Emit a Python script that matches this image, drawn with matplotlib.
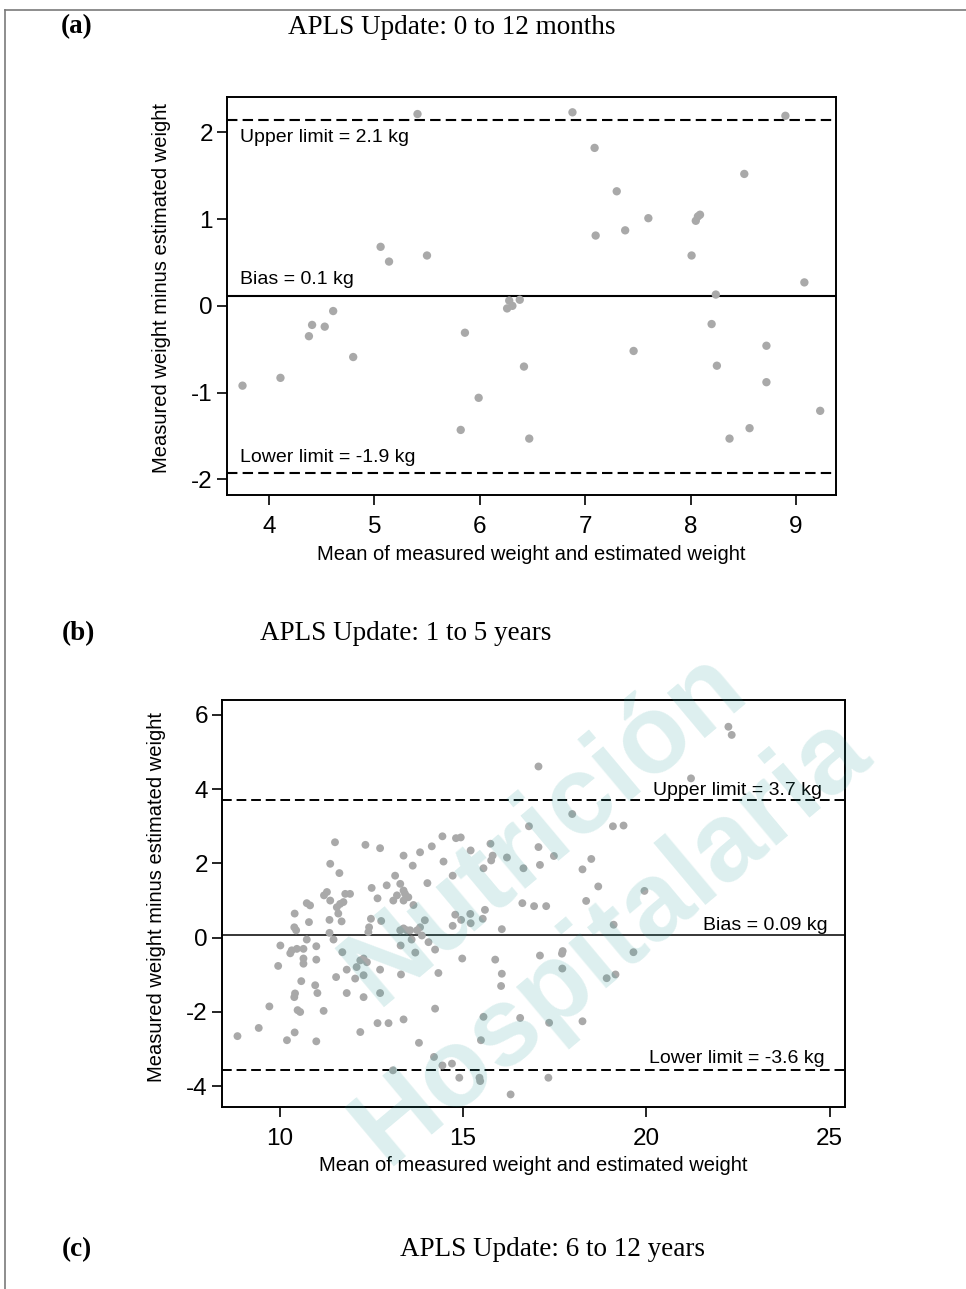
import matplotlib
matplotlib.use("Agg")
import matplotlib.pyplot as plt
from matplotlib.lines import Line2D

# ---- panel (a): 0 to 12 months ----
mean_a = [3.75, 4.11, 4.38, 4.41, 4.53, 4.61, 4.80, 5.06, 5.14, 5.41, 5.50,
          5.86, 5.82, 5.99, 6.26, 6.28, 6.31, 6.38, 6.42, 6.47, 6.88, 7.09,
          7.10, 7.30, 7.38, 7.46, 7.60, 8.01, 8.05, 8.07, 8.09, 8.24, 8.20,
          8.25, 8.37, 8.51, 8.56, 8.72, 8.72, 8.90, 9.08, 9.23]
diff_a = [-0.92, -0.83, -0.35, -0.22, -0.24, -0.06, -0.59, 0.68, 0.51, 2.21, 0.58,
          -0.31, -1.43, -1.06, -0.03, 0.06, 0.00, 0.07, -0.70, -1.53, 2.23, 1.82,
          0.81, 1.32, 0.87, -0.52, 1.01, 0.58, 0.98, 1.03, 1.05, 0.13, -0.21,
          -0.69, -1.53, 1.52, -1.41, -0.46, -0.88, 2.19, 0.27, -1.21]
limits_a = {"upper": 2.14, "bias": 0.11, "lower": -1.93}
labels_a = ["Upper limit = 2.1 kg", "Bias = 0.1 kg", "Lower limit = -1.9 kg"]
xticks_a = [4, 5, 6, 7, 8, 9]
yticks_a = [-2, -1, 0, 1, 2]

# ---- panel (b): 1 to 5 years ----
mean_b = [
    8.85, 9.43, 9.72, 9.96, 10.02, 10.20, 10.41, 10.41, 10.40, 10.45, 10.59, 10.42, 10.40,
    10.49, 10.56, 10.29, 10.33, 10.47, 10.65, 10.74, 10.83, 10.80, 10.74, 10.65, 10.65, 10.97,
    11.00, 11.00, 11.03, 11.00, 11.20, 11.21, 11.29, 11.38, 11.51, 11.63, 11.38, 11.36, 11.36,
    11.47, 11.56, 11.60, 11.65, 11.74, 11.69, 11.79, 11.92, 11.71, 11.54, 11.83, 11.83,
    12.06, 12.10, 12.20, 12.29, 12.38, 12.29, 12.29, 12.20, 12.34, 12.74, 12.51, 12.67, 12.49,
    12.44, 12.42, 12.77, 12.74, 12.74, 12.67, 12.97, 12.92,
    13.15, 13.10, 13.20, 13.29, 13.38, 13.42, 13.51, 13.38, 13.38, 13.63, 13.65, 13.29, 13.38,
    13.47, 13.56, 13.60, 13.75, 13.30, 13.31, 13.38, 13.80, 13.70, 13.83, 13.96, 13.83, 13.88, 13.09,
    14.03, 14.15, 14.06, 14.24, 14.33, 14.24, 14.21, 14.44, 14.81, 14.94, 14.47, 14.72, 14.79,
    14.95, 14.72, 14.98, 14.44, 14.70, 14.90,
    15.21, 15.75, 15.81, 15.77, 15.56, 15.60, 15.54, 15.20, 15.21, 15.88, 15.56, 15.49, 15.45, 15.47,
    16.20, 16.65, 16.80, 17.06, 17.06, 17.48, 17.10, 16.62, 16.94, 17.27, 16.06, 17.10, 17.72,
    17.70, 16.06, 16.04, 17.71, 16.56, 17.35, 17.33, 16.30,
    17.98, 18.26, 18.50, 18.69, 18.36, 18.92, 18.26, 19.09, 19.38, 19.95, 19.11, 19.65, 19.16,
    21.22, 22.24, 22.33,
]
diff_b = [
    -2.65, -2.43, -1.85, -0.76, -0.21, -2.76, -2.55, 0.65, 0.28, 0.20, -1.17, -1.50, -1.60,
    -1.95, -2.00, -0.42, -0.34, -0.30, -0.30, 0.93, 0.87, 0.42, -0.05, -0.56, -0.70, -1.28,
    -0.23, -0.59, -1.49, -2.79, -1.97, 1.14, 1.23, 1.99, 2.57, 1.74, 1.00, 0.48, 0.13,
    -0.05, 0.82, 0.65, 0.91, 0.96, 0.44, 1.18, 1.18, -0.39, -1.06, -0.86, -1.49,
    -1.10, -0.79, -0.61, -0.56, -0.66, -1.01, -1.60, -2.54, 2.50, 2.41, 1.34, 1.06, 0.51,
    0.28, 0.15, 0.45, -0.86, -1.49, -2.30, -2.30, 1.41,
    1.67, 1.00, 1.14, 1.45, 1.27, 1.18, 1.09, 1.00, 2.21, 1.94, 0.88, 0.20, 0.25,
    0.20, 0.20, -0.05, 0.20, -0.21, -0.99, -2.20, -2.83, -0.40, 2.30, 0.47, 0.28, 0.06, -3.57,
    1.47, 2.46, -0.12, -0.32, -0.95, -1.91, -3.21, 2.73, 2.68, 2.70, 2.05, 1.67, 0.62,
    0.48, 0.32, -0.56, -3.44, -3.39, -3.77,
    2.35, 2.53, 2.21, 2.08, 1.87, 0.75, 0.51, 0.64, 0.39, -0.59, -2.13, -2.76, -3.77, -3.86,
    2.16, 1.87, 3.00, 4.61, 2.44, 2.20, 1.96, 0.93, 0.85, 0.85, 0.23, -0.48, -0.36,
    -0.43, -0.97, -1.30, -0.83, -2.16, -2.29, -3.77, -4.22,
    3.33, 1.84, 2.12, 1.38, 0.99, -1.09, -2.25, 3.00, 3.02, 1.26, 0.35, -0.39, -0.99,
    4.29, 5.68, 5.46,
]
limits_b = {"upper": 3.71, "bias": 0.06, "lower": -3.57}
labels_b = ["Upper limit = 3.7 kg", "Bias = 0.09 kg", "Lower limit = -3.6 kg"]
xticks_b = [10, 15, 20, 25]
yticks_b = [-4, -2, 0, 2, 4, 6]

titles = [("(a)", "APLS Update: 0 to 12 months"),
          ("(b)", "APLS Update: 1 to 5 years"),
          ("(c)", "APLS Update: 6 to 12 years")]

W, H = 966, 1289
DOT = "#a9a9a9"
plt.rcParams["font.family"] = ["Liberation Sans", "DejaVu Sans"]
plt.rcParams["axes.unicode_minus"] = False

fig = plt.figure(figsize=(W / 100, H / 100), dpi=100)


def px_box(left, top, right, bottom):
    return [left / W, 1 - bottom / H, (right - left) / W, (bottom - top) / H]


def style_axes(ax, xticks, yticks, ylabel_xy):
    ax.set_facecolor("none")
    for sp in ax.spines.values():
        sp.set_linewidth(1.4)
    ax.set_xticks(xticks)
    ax.set_yticks(yticks)
    ax.tick_params(direction="out", length=7, width=1.2, labelsize=17.5)
    ax.tick_params(axis="x", pad=8)
    ax.tick_params(axis="y", pad=3)
    ax.set_xlabel("Mean of measured weight and estimated weight", fontsize=14.5, labelpad=5)
    ax.set_ylabel("Measured weight minus estimated weight", fontsize=14.5)
    ax.yaxis.set_label_coords(*ylabel_xy)


# (a)
ax_a = fig.add_axes(px_box(226.7, 96.7, 836, 495))
ax_a.scatter(mean_a, diff_a, s=36, color=DOT, edgecolors="none", zorder=3)
ax_a.axhline(limits_a["upper"], color="black", lw=1.5, ls=(0, (5, 2.5)))
ax_a.axhline(limits_a["bias"], color="black", lw=1.5)
ax_a.axhline(limits_a["lower"], color="black", lw=1.5, ls=(0, (5, 2.5)))
ax_a.set_xlim(3.60, 9.38)
ax_a.set_ylim(-2.18, 2.41)
style_axes(ax_a, xticks_a, yticks_a, (-0.092, 0.52))
ax_a.text(3.73, limits_a["upper"] - 0.1, labels_a[0], fontsize=14, va="top")
ax_a.text(3.73, limits_a["bias"] + 0.09, labels_a[1], fontsize=14, va="bottom")
ax_a.text(3.73, limits_a["lower"] + 0.08, labels_a[2], fontsize=14, va="bottom")

# (b)
ax_b = fig.add_axes(px_box(221.7, 700, 845, 1106.7))
ax_b.scatter(mean_b, diff_b, s=32, color=DOT, edgecolors="none", zorder=3)
ax_b.axhline(limits_b["upper"], color="black", lw=1.4, ls=(0, (5, 2.5)))
ax_b.axhline(limits_b["bias"], color="black", lw=1.1)
ax_b.axhline(limits_b["lower"], color="black", lw=1.4, ls=(0, (5, 2.5)))
ax_b.set_xlim(8.42, 25.42)
ax_b.set_ylim(-4.55, 6.40)
style_axes(ax_b, xticks_b, yticks_b, (-0.090, 0.516))
ax_b.text(24.78, 3.83, labels_b[0], fontsize=14, ha="right", va="baseline")
ax_b.text(24.94, 0.21, labels_b[1], fontsize=14, ha="right", va="baseline")
ax_b.text(24.87, -3.37, labels_b[2], fontsize=14, ha="right", va="baseline")

# panel headings
head_pos = [(77, 452, 27), (78, 406, 634), (77, 553, 1250)]
for (tag, title), (xt, xc, yc) in zip(titles, head_pos):
    fig.text(xt / W, 1 - yc / H, tag, family="Liberation Serif", fontsize=19.5,
             fontweight="bold", ha="center", va="center")
    fig.text(xc / W, 1 - yc / H, title, family="Liberation Serif", fontsize=19.5,
             ha="center", va="center")

# page frame
fig.add_artist(Line2D([5 / W, 1], [1 - 10 / H, 1 - 10 / H], color="#7a7a7a", lw=1.2))
fig.add_artist(Line2D([5 / W, 5 / W], [1 - 10 / H, 0], color="#7a7a7a", lw=1.2))

# journal watermark
for word, (cx, cy) in [("Nutrición", (545, 828)), ("Hospitalaria", (612, 940))]:
    fig.text(cx / W, 1 - cy / H, word, fontsize=80, fontweight="bold",
             color="#2a9d9a", alpha=0.16, rotation=40, ha="center", va="center",
             rotation_mode="anchor", zorder=10)

fig.savefig("out.png", dpi=100)
